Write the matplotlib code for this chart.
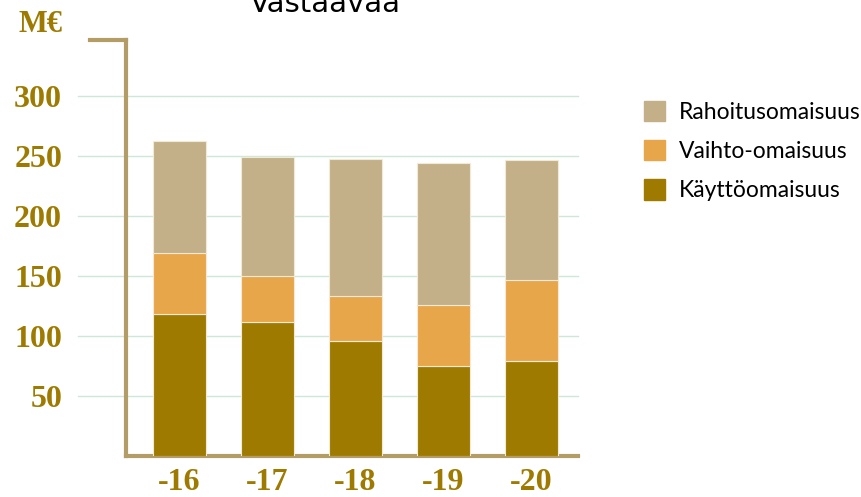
import numpy as np
import matplotlib
matplotlib.use("Agg")
from matplotlib import pyplot as plt
from matplotlib.patches import Patch
import matplotlib.transforms as mtransforms

years = ["-16", "-17", "-18", "-19", "-20"]
kaytto = [118.6, 112.0, 96.1, 75.3, 79.2]
vaihto = [50.3, 38.3, 37.5, 50.5, 67.8]
rahoitus = [93.6, 98.7, 113.9, 118.2, 99.7]
yticks = [50, 100, 150, 200, 250, 300]

col_kaytto = "#9E7B00"
col_vaihto = "#E8A64A"
col_rahoitus = "#C3B088"
gold = "#9E7B00"
spine_col = "#B39C66"
grid_col = "#CDE8DA"

W, H = 862, 497
fig = plt.figure(figsize=(W / 100, H / 100), dpi=100)
ax = fig.add_axes([126 / W, 41 / H, 452 / W, 416 / H])

x = np.arange(len(years))
bw = 0.6
ec = "#F2EAD6"
ax.bar(x, kaytto, bw, color=col_kaytto, edgecolor=ec, linewidth=0.8, zorder=3)
ax.bar(x, vaihto, bw, bottom=kaytto, color=col_vaihto, edgecolor=ec, linewidth=0.8, zorder=3)
bot2 = np.array(kaytto) + np.array(vaihto)
ax.bar(x, rahoitus, bw, bottom=bot2, color=col_rahoitus, edgecolor=ec, linewidth=0.8, zorder=3)

ax.set_xlim(-0.608, 4.528)
ax.set_ylim(0, 346.7)

# gridlines, reaching a bit left of the axis
trans = mtransforms.blended_transform_factory(ax.transAxes, ax.transData)
for t in yticks:
    ax.plot([-48 / 452, 1.0], [t, t], transform=trans, color=grid_col, lw=1.0,
            zorder=1, clip_on=False)

for s in ["top", "right"]:
    ax.spines[s].set_visible(False)
ax.spines["left"].set_color(spine_col)
ax.spines["bottom"].set_color(spine_col)
ax.spines["left"].set_linewidth(3)
ax.spines["bottom"].set_linewidth(3)
# small horizontal piece at top of the y axis
ax.plot([-36 / 452, 0], [1, 1], transform=ax.transAxes, color=spine_col, lw=3,
        clip_on=False, solid_capstyle="projecting")

ax.set_yticks(yticks)
ax.set_yticklabels([str(t) for t in yticks])
ax.set_xticks(x)
ax.set_xticklabels(years)
ax.tick_params(length=0)
ax.tick_params(axis="y", pad=46)
ax.tick_params(axis="x", pad=9)
for lab in ax.get_yticklabels() + ax.get_xticklabels():
    lab.set_fontfamily("Liberation Serif")
    lab.set_fontweight("bold")
    lab.set_fontsize(23)
    lab.set_color(gold)

fig.text(63 / W, 1 - 24 / H, "M€", ha="right", va="center", fontsize=22,
         fontfamily="Liberation Serif", fontweight="bold", color=gold)
fig.text(325 / W, 1 - 12 / H, "Vastaavaa", ha="center", va="baseline", fontsize=21,
         fontfamily="DejaVu Sans", color="black")

handles = [Patch(color=col_rahoitus), Patch(color=col_vaihto), Patch(color=col_kaytto)]
labels = ["Rahoitusomaisuus", "Vaihto-omaisuus", "Käyttöomaisuus"]
fig.legend(handles, labels, loc="upper left", bbox_to_anchor=(623 / W, 1 - 80 / H),
           frameon=False, prop={"family": "Lato", "size": 16.5},
           handlelength=0.95, handleheight=1.0, handletextpad=0.6, labelspacing=0.75)

fig.savefig("out.png", dpi=100)
